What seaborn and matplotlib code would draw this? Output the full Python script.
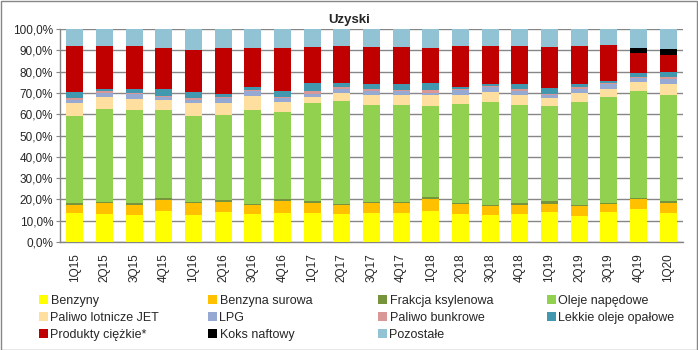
"""
Uzyski - struktura produktow (100% slupki skumulowane), 1Q15-1Q20.
"""
import numpy as np
import pandas as pd
import matplotlib
matplotlib.use("Agg")
import matplotlib.pyplot as plt
from matplotlib.patches import Patch, Rectangle
from matplotlib.ticker import FuncFormatter
import seaborn as sns

# --- Dane (% udzialu) ---
kwartaly = ["1Q15", "2Q15", "3Q15", "4Q15", "1Q16", "2Q16", "3Q16", "4Q16",
            "1Q17", "2Q17", "3Q17", "4Q17", "1Q18", "2Q18", "3Q18", "4Q18",
            "1Q19", "2Q19", "3Q19", "4Q19", "1Q20"]

benzyny = [13.8, 13.3, 12.7, 14.7, 12.7, 14.3, 13.3, 13.8, 13.8, 13.3, 13.8,
           13.8, 14.7, 13.3, 12.7, 13.3, 14.1, 12.2, 14.1, 15.5, 13.6]
benzyna_surowa = [3.6, 5.0, 4.7, 5.0, 5.5, 4.7, 4.1, 5.6, 4.5, 4.1, 4.5,
                  4.4, 5.7, 4.7, 4.4, 4.3, 3.9, 4.7, 3.9, 4.7, 4.7]
frakcja_ksylenowa = [0.9, 0.5, 0.9, 1.0, 0.5, 0.6, 0.6, 0.8, 1.0, 0.5, 0.5,
                     0.8, 0.9, 0.5, 0.5, 0.9, 1.3, 0.5, 0.5, 0.5, 1.0]
oleje_napedowe = [40.9, 43.7, 43.8, 41.4, 40.5, 40.1, 43.8, 40.9, 46.1, 48.4, 45.6,
                  45.4, 42.6, 46.5, 48.2, 45.9, 44.6, 48.4, 49.7, 50.3, 49.8]
paliwo_jet = [6.0, 5.5, 5.1, 4.7, 6.0, 5.5, 6.9, 4.7, 2.8, 3.8, 4.7,
              4.7, 5.2, 4.1, 4.7, 4.7, 3.8, 4.3, 3.7, 4.2, 5.2]
lpg = [1.6, 1.9, 2.1, 1.2, 1.6, 2.2, 2.1, 1.6, 1.5, 1.8, 1.6,
       1.7, 1.0, 2.1, 2.1, 1.6, 1.3, 1.8, 2.1, 1.6, 2.3]
paliwo_bunkrowe = [0.8, 0.8, 0.6, 0.7, 0.6, 0.9, 0.4, 0.8, 1.0, 1.0, 0.9,
                   0.4, 1.1, 0.6, 0.8, 0.9, 0.6, 0.8, 0.5, 0.5, 0.7]
lekkie_oleje = [2.9, 1.2, 2.0, 3.2, 3.1, 1.3, 1.4, 2.8, 3.8, 1.6, 2.4,
                2.8, 3.3, 1.2, 0.9, 2.7, 2.8, 1.6, 1.2, 2.2, 2.6]
produkty_ciezkie = [21.3, 19.9, 19.9, 19.3, 19.5, 21.6, 18.6, 20.2, 17.2, 17.7, 17.7,
                    17.7, 16.7, 19.2, 17.9, 17.9, 19.3, 17.9, 16.9, 9.4, 8.0]
koks_naftowy = [0, 0, 0, 0, 0, 0, 0, 0, 0, 0, 0,
                0, 0, 0, 0, 0, 0, 0, 0, 2.3, 2.9]
pozostale = [8.2, 8.2, 8.2, 8.8, 10.0, 8.8, 8.8, 8.8, 8.3, 7.8, 8.3,
             8.3, 8.8, 7.8, 7.8, 7.8, 8.3, 7.8, 7.4, 8.8, 9.2]

nazwy = ["Benzyny", "Benzyna surowa", "Frakcja ksylenowa", "Oleje napędowe",
         "Paliwo lotnicze JET", "LPG", "Paliwo bunkrowe", "Lekkie oleje opałowe",
         "Produkty ciężkie*", "Koks naftowy", "Pozostałe"]
serie = [benzyny, benzyna_surowa, frakcja_ksylenowa, oleje_napedowe, paliwo_jet,
         lpg, paliwo_bunkrowe, lekkie_oleje, produkty_ciezkie, koks_naftowy, pozostale]
kolory = ["#FFFF00", "#FFC000", "#77933C", "#92D050", "#FFDF9F", "#95A9D3",
          "#D99795", "#4198AF", "#C00000", "#000000", "#92C3D5"]

# --- Tabela + skumulowane udzialy (100%) ---
df = pd.DataFrame(dict(zip(nazwy, serie)), index=kwartaly)
df = df.div(df.sum(axis=1), axis=0)
cum = df.cumsum(axis=1)

sns.set_style("white")
plt.rcParams["font.family"] = ["Liberation Sans", "DejaVu Sans"]

fig = plt.figure(figsize=(6.98, 3.5), dpi=100)
ax = fig.add_axes([60 / 698, 1 - 242 / 350, (683 - 60) / 698, (242 - 29) / 350])

# slupki rysowane od najwyzszej sumy do najnizszej (nakladanie = stos)
for nazwa, kolor in reversed(list(zip(nazwy, kolory))):
    d = pd.DataFrame({"kw": kwartaly, "v": cum[nazwa].values})
    sns.barplot(data=d, x="kw", y="v", color=kolor, width=0.57, ax=ax,
                saturation=1, edgecolor="none", linewidth=0, zorder=3)

ax.set_ylim(0, 1)
ax.set_xlim(-0.5, 20.5)
ax.set_yticks(np.arange(0, 1.01, 0.1))
ax.yaxis.set_major_formatter(FuncFormatter(lambda v, p: f"{v * 100:.1f}%".replace(".", ",")))
ax.set_axisbelow(True)
ax.grid(axis="y", color="#868686", linewidth=1, zorder=0)
ax.grid(axis="x", visible=False)
ax.set_xlabel("")
ax.set_ylabel("")
for s in ["top", "right"]:
    ax.spines[s].set_visible(False)
for s in ["left", "bottom"]:
    ax.spines[s].set_color("#868686")
    ax.spines[s].set_linewidth(1)
ax.tick_params(axis="y", labelsize=8.5, length=3, color="#868686", left=True, pad=2)
ax.tick_params(axis="x", labelsize=8.5, length=0, pad=8)
plt.setp(ax.get_xticklabels(), rotation=90)

fig.text(0.5, 1 - 20 / 350, "Uzyski", ha="center", va="center",
         fontsize=9.5, fontweight="bold")

# --- Legenda: 4 kolumny, wiersze jak w Excelu ---
kol_x = [39 / 698, 208 / 698, 378 / 698, 547 / 698]
for c in range(4):
    idx = [i for i in range(c, len(nazwy), 4)]
    uchwyty = [Patch(facecolor=kolory[i], edgecolor="none", label=nazwy[i]) for i in idx]
    fig.legend(handles=uchwyty, loc="upper left", bbox_to_anchor=(kol_x[c], 1 - 295 / 350),
               frameon=False, fontsize=9, handlelength=0.72, handleheight=0.72,
               handletextpad=0.2, labelspacing=0.4, borderpad=0, borderaxespad=0)

# ramka obszaru wykresu
fig.patches.append(Rectangle((0.5 / 698, 0.5 / 350), 1 - 1.5 / 698, 1 - 1.5 / 350,
                             transform=fig.transFigure, fill=False,
                             edgecolor="#868686", linewidth=1))

fig.savefig("out.png", dpi=100)
